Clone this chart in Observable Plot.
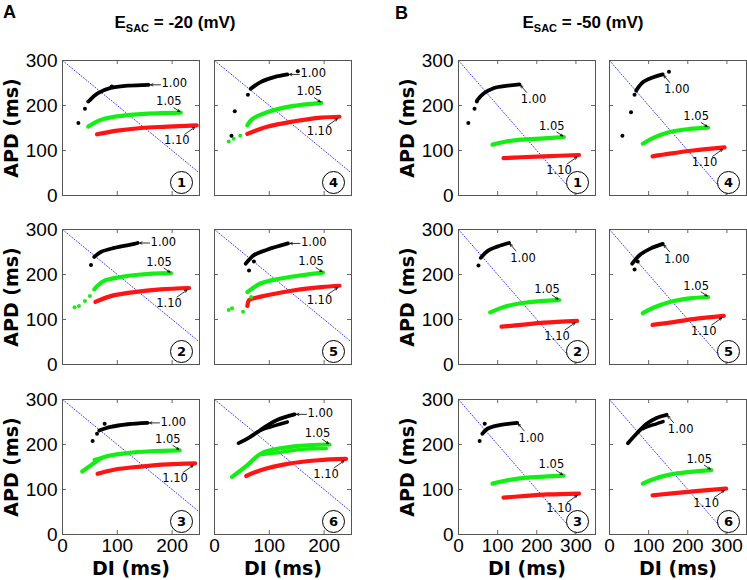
<!DOCTYPE html>
<html><head><meta charset="utf-8">
<script src="https://cdn.jsdelivr.net/npm/d3@7"></script>
<script src="https://cdn.jsdelivr.net/npm/@observablehq/plot@0.6"></script>
<style>
body{margin:0;background:#fff;}
#chart{position:relative;width:747px;height:580px;overflow:hidden;background:#fff;}
.panel{position:absolute;}
.panel svg{max-width:none !important;display:block;}
.lbl{position:absolute;font-weight:bold;font-family:"Liberation Sans",Arial,sans-serif;color:#000;white-space:nowrap;line-height:1;}
.lbl sub{font-size:11px;vertical-align:-4px;}
</style></head><body><div id="chart"></div>
<script>
// ---- axes / ticks ----
const xTicksA = [0, 100, 200];
const xTicksB = [0, 100, 200, 300];
const yTicks = [0, 100, 200, 300];
const xInnerA = [100, 200];
const xInnerB = [100, 200, 300];
const yInner = [100, 200];
const diagonal = [[0, 300], [300, 0]];
const curveLabels = ["1.00", "1.05", "1.10"];
const groupLetters = ["A", "B"];
const esacValues = ["-20", "-50"];
const axisTitleY = "APD (ms)";
const axisTitleX = "DI (ms)";

// ---- series values [DI, APD] ----
// A: E_SAC = -20 mV
const a1Black = [[50,212],[64,227],[88,239],[119,244],[157,246]];
const a1BlackDots = [[29,161],[41,193],[47,209],[90,242]];
const a1Green = [[47,153],[70,168],[100,176],[143,181],[216,184]];
const a1Red = [[63,136],[100,144],[143,150],[192,153],[245,156]];

const a4Black = [[66,237],[84,252],[109,263],[133,269]];
const a4BlackDots = [[31,133],[37,187],[61,224],[152,276]];
const a4GreenDots = [[26,120],[35,126],[47,133]];
const a4Green = [[60,156],[69,170],[96,185],[139,198],[195,206]];
const a4Red = [[60,137],[96,153],[146,165],[195,173],[228,175]];

const a2Black = [[58,239],[70,250],[94,259],[131,268],[137,270]];
const a2BlackDots = [[52,221]];
const a2GreenDots = [[22,127],[30,130],[41,141],[50,152]];
const a2Green = [[58,167],[64,175],[76,186],[100,193],[143,200],[198,203]];
const a2Red = [[60,139],[88,152],[131,161],[179,167],[231,170]];

const a5Black = [[57,224],[72,243],[96,255],[134,269]];
const a5BlackDots = [[63,209],[72,229]];
const a5GreenDots = [[26,121],[32,125],[52,117],[67,150]];
const a5Green = [[60,161],[84,180],[121,191],[158,198],[198,204]];
const a5Red = [[60,130],[63,143],[72,147],[96,154],[146,165],[195,172],[228,175]];

const a3Black = [[67,231],[88,239],[119,245],[155,248]];
const a3BlackDots = [[55,208],[63,224],[77,246]];
const a3Green = [[36,140],[52,154],[76,172],[119,181],[161,185],[214,187]];
const a3GreenBranch = [[58,166],[76,172]];
const a3Red = [[64,135],[94,144],[143,151],[192,156],[242,158]];

const a6Black = [[44,203],[60,213],[84,232],[96,242],[115,255],[146,267]];
const a6BlackBranch = [[84,232],[96,237],[133,250]];
const a6Green = [[32,128],[60,154],[72,168],[90,183],[146,196],[210,200]];
const a6GreenBranch = [[85,178],[109,181],[158,189],[204,191]];
const a6Red = [[58,130],[84,143],[133,157],[189,165],[240,168]];

// B: E_SAC = -50 mV
const b1Black = [[48,212],[65,227],[91,239],[125,244],[156,247]];
const b1BlackDots = [[25,161],[41,193],[47,209]];
const b1Green = [[87,113],[116,119],[159,124],[218,127],[269,130]];
const b1Red = [[115,83],[159,85],[218,87],[308,90]];

const b4Black = [[68,233],[86,252],[112,263],[136,269]];
const b4BlackDots = [[33,133],[55,185],[64,224],[152,275]];
const b4Green = [[85,115],[112,128],[154,141],[205,148],[252,151]];
const b4Red = [[110,87],[154,93],[214,100],[294,107]];

const b2Black = [[57,237],[74,252],[99,262],[129,270]];
const b2BlackDots = [[51,220]];
const b2Green = [[81,116],[116,128],[159,136],[210,141],[257,143]];
const b2Red = [[110,84],[159,88],[218,93],[303,97]];

const b5Black = [[58,224],[78,244],[103,257],[136,268]];
const b5BlackDots = [[64,211],[72,229]];
const b5Green = [[85,114],[112,126],[154,139],[205,147],[252,150]];
const b5Red = [[110,88],[154,93],[214,101],[292,108]];

const b3Black = [[61,224],[74,235],[99,242],[150,248]];
const b3BlackDots = [[54,208],[67,246]];
const b3Green = [[87,113],[116,119],[167,126],[227,129],[268,131]];
const b3Red = [[115,82],[159,85],[227,89],[308,91]];

const b6Black = [[47,203],[69,224],[95,246],[120,259],[146,266]];
const b6BlackBranch = [[85,235],[95,239],[120,246],[137,251]];
const b6Green = [[85,113],[112,123],[154,133],[205,139],[260,143]];
const b6Red = [[110,87],[154,91],[214,96],[298,102]];

// ---- panel table built from the arrays ----
const panels = [
  {g:0, col:0, row:0, num:"1", black:a1Black, blackDots:a1BlackDots, green:a1Green, red:a1Red},
  {g:0, col:1, row:0, num:"4", black:a4Black, blackDots:a4BlackDots, greenDots:a4GreenDots, green:a4Green, red:a4Red},
  {g:0, col:0, row:1, num:"2", black:a2Black, blackDots:a2BlackDots, greenDots:a2GreenDots, green:a2Green, red:a2Red},
  {g:0, col:1, row:1, num:"5", black:a5Black, blackDots:a5BlackDots, greenDots:a5GreenDots, green:a5Green, red:a5Red},
  {g:0, col:0, row:2, num:"3", black:a3Black, blackDots:a3BlackDots, green:a3Green, greenBranch:a3GreenBranch, red:a3Red},
  {g:0, col:1, row:2, num:"6", black:a6Black, blackBranch:a6BlackBranch, green:a6Green, greenBranch:a6GreenBranch, red:a6Red},
  {g:1, col:0, row:0, num:"1", black:b1Black, blackDots:b1BlackDots, green:b1Green, red:b1Red},
  {g:1, col:1, row:0, num:"4", black:b4Black, blackDots:b4BlackDots, green:b4Green, red:b4Red},
  {g:1, col:0, row:1, num:"2", black:b2Black, blackDots:b2BlackDots, green:b2Green, red:b2Red},
  {g:1, col:1, row:1, num:"5", black:b5Black, blackDots:b5BlackDots, green:b5Green, red:b5Red},
  {g:1, col:0, row:2, num:"3", black:b3Black, blackDots:b3BlackDots, green:b3Green, red:b3Red},
  {g:1, col:1, row:2, num:"6", black:b6Black, blackBranch:b6BlackBranch, green:b6Green, red:b6Red},
];

// ---- layout & style ----
const FRAME_X = [[62, 214], [458, 609]];
const FRAME_Y = [60, 229, 399];
const FW = 137, FH = 135;
const COLORS = {black: "#000000", green: "#14ee14", red: "#ff1414"};
const ANN = {
  A0: {text: [13, -1], anchor: "start", from: [12, 0], to: [2, 0]},
  B0: {text: [14, 15], anchor: "middle", from: [7, 8], to: [1, 1]},
  G: {text: [-12, -11], anchor: "middle", from: [-7, -5], to: [-1, -1]},
  R: {text: [-20, 15], anchor: "middle", from: [-12, 9], to: [-2, 2]},
};

const chart = document.getElementById("chart");

function makePanel(p) {
  const isB = p.g === 1;
  const xMax = isB ? 350 : 250;
  const left = p.col === 0, bottom = p.row === 2;
  const ml = left ? 64 : 1, mr = 1, mt = 4, mb = bottom ? 46 : 4;
  const kx = xMax / FW, ky = 300 / FH;
  const off = (pt, o) => [pt[0] + o[0] * kx, pt[1] - o[1] * ky];
  const X = d => d[0], Y = d => d[1];
  const marks = [];
  marks.push(Plot.line(diagonal, {x: X, y: Y, stroke: "#3a3aff", strokeWidth: 1, strokeDasharray: "1,2", clip: true}));
  // inward ticks on all four sides
  marks.push(Plot.tickY(yInner, {y: d => d, insetRight: FW - 4, stroke: "#666"}));
  marks.push(Plot.tickY(yInner, {y: d => d, insetLeft: FW - 4, stroke: "#666"}));
  const xi = isB ? xInnerB : xInnerA;
  marks.push(Plot.tickX(xi, {x: d => d, insetTop: FH - 4, stroke: "#666"}));
  marks.push(Plot.tickX(xi, {x: d => d, insetBottom: FH - 4, stroke: "#666"}));
  const line = (pts, color, w) => Plot.line(pts, {x: X, y: Y, stroke: color, strokeWidth: w, curve: "catmull-rom", strokeLinecap: "round", strokeLinejoin: "round"});
  const dots = (pts, color, r) => Plot.dot(pts, {x: X, y: Y, r, fill: color, stroke: "none"});
  if (p.red) marks.push(line(p.red, COLORS.red, 4.2));
  if (p.greenDots) marks.push(dots(p.greenDots, COLORS.green, 2));
  if (p.greenBranch) marks.push(line(p.greenBranch, COLORS.green, 3.6));
  if (p.green) marks.push(line(p.green, COLORS.green, 4.2));
  if (p.blackDots) marks.push(dots(p.blackDots, COLORS.black, 2));
  if (p.blackBranch) marks.push(line(p.blackBranch, COLORS.black, 3.4));
  if (p.black) marks.push(line(p.black, COLORS.black, 3.8));
  // annotations
  const anns = [
    {tip: p.black[p.black.length - 1], label: curveLabels[0], s: isB ? ANN.B0 : ANN.A0},
    {tip: p.green[p.green.length - 1], label: curveLabels[1], s: ANN.G},
    {tip: p.red[p.red.length - 1], label: curveLabels[2], s: ANN.R},
  ];
  for (const a of anns) {
    const t = off(a.tip, a.s.text), f = off(a.tip, a.s.from), e = off(a.tip, a.s.to);
    marks.push(Plot.arrow([{f, e}], {x1: d => d.f[0], y1: d => d.f[1], x2: d => d.e[0], y2: d => d.e[1], stroke: "black", strokeWidth: 0.8, headLength: 5, headAngle: 50}));
    marks.push(Plot.text([a.label], {x: () => t[0], y: () => t[1], text: d => d, textAnchor: a.s.anchor, lineAnchor: "middle", fontSize: 11.5, fontFamily: "DejaVu Sans", fill: "black"}));
  }
  // circled panel number
  marks.push(Plot.dot([p.num], {frameAnchor: "bottom-right", dx: -18, dy: -13, r: 11, fill: "white", stroke: "black", strokeWidth: 1}));
  marks.push(Plot.text([p.num], {frameAnchor: "bottom-right", dx: -18, dy: -13, textAnchor: "middle", lineAnchor: "middle", fontSize: 13, fontWeight: "bold", fontFamily: "DejaVu Sans"}));
  marks.push(Plot.frame({stroke: "#555", strokeWidth: 1}));
  if (left) marks.push(Plot.text([axisTitleY], {frameAnchor: "left", dx: -51, rotate: -90, textAnchor: "middle", lineAnchor: "middle", fontSize: 19, fontWeight: "bold", fontFamily: "DejaVu Sans"}));
  if (bottom) marks.push(Plot.text([axisTitleX], {frameAnchor: "bottom", dy: 34, textAnchor: "middle", lineAnchor: "middle", fontSize: 19, fontWeight: "bold", fontFamily: "DejaVu Sans"}));

  const W = ml + FW + mr, H = mt + FH + mb;
  const svg = Plot.plot({
    width: W, height: H,
    marginLeft: ml, marginRight: mr, marginTop: mt, marginBottom: mb,
    style: {background: "transparent", fontSize: "19px", fontFamily: "'Liberation Sans', Arial, sans-serif", color: "black", overflow: "visible", maxWidth: "none"},
    x: {domain: [0, xMax], ticks: isB ? xTicksB : xTicksA, tickSize: 0, tickPadding: 4, axis: bottom ? "bottom" : null, label: null, tickFormat: d => String(d)},
    y: {domain: [0, 300], ticks: yTicks, tickSize: 0, tickPadding: 5, axis: left ? "left" : null, label: null, tickFormat: d => String(d)},
    marks
  });
  const wrap = document.createElement("div");
  wrap.className = "panel";
  wrap.style.left = (FRAME_X[p.g][p.col] - ml) + "px";
  wrap.style.top = (FRAME_Y[p.row] - mt) + "px";
  wrap.style.width = W + "px";
  wrap.style.height = H + "px";
  wrap.appendChild(svg);
  chart.appendChild(wrap);
}
panels.forEach(makePanel);

// group letters and titles
const letterPos = [[3, 3], [395, 4]];
const titleCenter = [175, 583];
groupLetters.forEach((L, i) => {
  const d = document.createElement("div");
  d.className = "lbl";
  d.style.left = letterPos[i][0] + "px"; d.style.top = letterPos[i][1] + "px";
  d.style.fontSize = "18px";
  d.textContent = L;
  chart.appendChild(d);
  const t = document.createElement("div");
  t.className = "lbl";
  t.style.left = titleCenter[i] + "px"; t.style.top = "14px";
  t.style.transform = "translateX(-50%)";
  t.style.fontSize = "17px";
  t.innerHTML = "E<sub>SAC</sub> = " + esacValues[i] + " (mV)";
  chart.appendChild(t);
});
</script></body></html>
